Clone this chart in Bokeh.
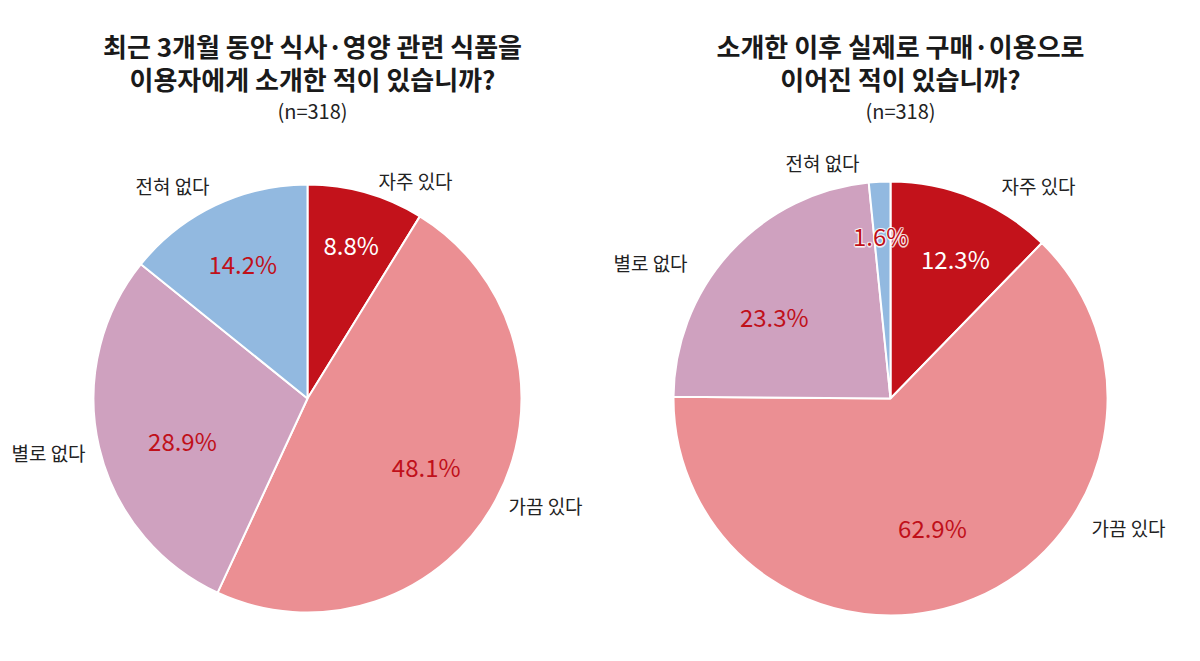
import math
from bokeh.plotting import figure
from bokeh.models import Range1d, ColumnDataSource
from bokeh.core.properties import value
from bokeh.embed import file_html
from bokeh.resources import INLINE

# ---- data ----
categories = ["자주 있다", "가끔 있다", "별로 없다", "전혀 없다"]
left_values = [8.8, 48.1, 28.9, 14.2]
right_values = [12.3, 62.9, 23.3, 1.6]
left_title = ["최근 3개월 동안 식사·영양 관련 식품을", "이용자에게 소개한 적이 있습니까?", "(n=318)"]
right_title = ["소개한 이후 실제로 구매·이용으로", "이어진 적이 있습니까?", "(n=318)"]

# ---- style / layout ----
slice_colors = ["#C3121B", "#EB8F93", "#CFA1BF", "#92B9E0"]
pct_colors = ["#FFFFFF", "#C0101A", "#C0101A", "#C0101A"]
FONT = "Noto Sans CJK KR"
W, H = 1184, 645

def sy(y):  # screen y -> data y
    return H - y

def sx(x):
    return x

p = figure(width=W, height=H, x_range=Range1d(0, W), y_range=Range1d(0, H),
           output_backend="svg", toolbar_location=None, min_border=0)
p.axis.visible = False
p.grid.visible = False
p.outline_line_color = None
p.background_fill_color = "white"

pies = [
    dict(vals=left_values, cx=307, cy=398, r=214, title=left_title, tx=312,
         pct_tweak=[0, 1.7, -5.5, 0], pct_r=[160, 137, 132, 150],
         halo=[False, False, False, False],
         cat_off=[(108, -218), (238, 107), (-259, 54), (-135, -213)]),
    dict(vals=right_values, cx=890, cy=398, r=217, title=right_title, tx=900,
         pct_tweak=[2.8, 4.7, -7.3, -0.6], pct_r=[154, 136, 142, 163],
         halo=[False, False, False, True],
         cat_off=[(148, -213), (238, 129), (-240, -136), (-68, -236)]),
]

for pie in pies:
    vals = pie["vals"]
    total = sum(vals)
    starts, ends, mids = [], [], []
    cum = 0.0
    for v in vals:
        a0 = cum / total * 2 * math.pi
        cum += v
        a1 = cum / total * 2 * math.pi
        starts.append(math.pi / 2 - a0)
        ends.append(math.pi / 2 - a1)
        mids.append((a0 + a1) / 2)
    cx, cy = sx(pie["cx"]), sy(pie["cy"])
    src = ColumnDataSource(dict(start=starts, end=ends, color=slice_colors))
    p.wedge(x=cx, y=cy, radius=pie["r"], start_angle="start", end_angle="end",
            direction="clock", fill_color="color", line_color="white",
            line_width=2, source=src)

    # percent labels
    px, py, pt = [], [], []
    for i, v in enumerate(vals):
        ang = mids[i] + math.radians(pie["pct_tweak"][i])
        rr = pie["pct_r"][i]
        px.append(cx + rr * math.sin(ang))
        py.append(cy + rr * math.cos(ang))
        pt.append(f"{v:.1f}%")
    # white halo for labels that cross slice borders
    hx = [px[i] for i in range(4) if pie["halo"][i]]
    hy = [py[i] for i in range(4) if pie["halo"][i]]
    ht = [pt[i] for i in range(4) if pie["halo"][i]]
    if ht:
        for ox, oy in [(-1.2, 0), (1.2, 0), (0, -1.2), (0, 1.2), (-1, -1), (1, 1), (-1, 1), (1, -1)]:
            p.text(x=[x + ox for x in hx], y=[y + oy for y in hy], text=ht,
                   text_color="white", text_alpha=0.55, text_font=value(FONT),
                   text_font_size="24px", text_align="center", text_baseline="middle")
    p.text(x=px, y=py, text=pt, text_color=pct_colors, text_font=value(FONT),
           text_font_size="24px", text_align="center", text_baseline="middle")

    # category labels
    lx = [cx + dx for dx, dy in pie["cat_off"]]
    ly = [cy - dy for dx, dy in pie["cat_off"]]
    p.text(x=lx, y=ly, text=categories, text_color="#222222", text_font=value(FONT),
           text_font_size="19px", text_align="center", text_baseline="middle")

    # titles
    tx = sx(pie["tx"])
    p.text(x=[tx, tx], y=[sy(45), sy(78)], text=pie["title"][:2], text_color="#1a1a1a",
           text_font=value(FONT), text_font_size="26px", text_font_style="bold",
           text_align="center", text_baseline="middle")
    p.text(x=[tx], y=[sy(110)], text=pie["title"][2:], text_color="#222222",
           text_font=value(FONT), text_font_size="20px",
           text_align="center", text_baseline="middle")

open("out.html", "w").write(file_html(p, INLINE))
